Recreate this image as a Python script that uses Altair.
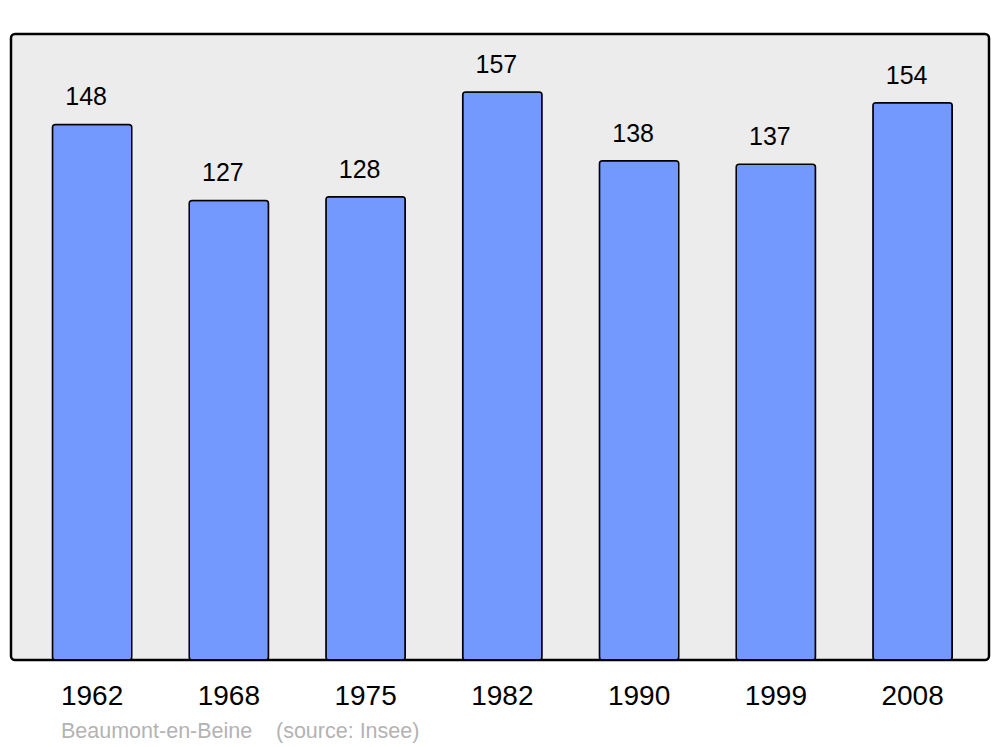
import altair as alt
import pandas as pd

years = ["1962", "1968", "1975", "1982", "1990", "1999", "2008"]
population = [148, 127, 128, 157, 138, 137, 154]

df = pd.DataFrame({"year": years, "pop": population})

base = alt.Chart(df).encode(
    x=alt.X("year:N", sort=years,
            scale=alt.Scale(paddingInner=0.42, paddingOuter=0.286, align=0.53),
            axis=alt.Axis(title=None, domain=False, ticks=False, labelAngle=0,
                          labelFontSize=28, labelColor="black", labelFont="Liberation Sans",
                          labelPadding=22)),
    y=alt.Y("pop:Q", scale=alt.Scale(domain=[0, 173], nice=False, zero=True),
            axis=None),
)

bars = base.mark_bar(color="#7399ff", stroke="black", strokeWidth=1.5, cornerRadius=3)
labels = base.mark_text(baseline="alphabetic", dy=-19, dx=-6, fontSize=25,
                        font="Liberation Sans", color="black").encode(text="pop:Q")

foot_df = pd.DataFrame({"t": [""]})
foot1 = alt.Chart(foot_df).mark_text(align="left", baseline="middle", fontSize=21.5,
                                     font="Liberation Sans", color="#b3b3b3").encode(
    x=alt.value(50), y=alt.value(698), text=alt.value("Beaumont-en-Beine"))
foot2 = alt.Chart(foot_df).mark_text(align="left", baseline="middle", fontSize=21.5,
                                     font="Liberation Sans", color="#b3b3b3").encode(
    x=alt.value(265), y=alt.value(698), text=alt.value("(source: Insee)"))

chart = alt.layer(bars, labels, foot1, foot2).properties(
    width=978, height=626,
    autosize=alt.AutoSizeParams(type="none"),
    padding={"left": 3, "top": 26, "right": 3, "bottom": 86},
    background="white",
).configure_view(
    fill="#ececec", stroke="black", strokeWidth=2.5, cornerRadius=4
)

chart.save("out.html", embed_options={"renderer": "svg", "actions": False})
